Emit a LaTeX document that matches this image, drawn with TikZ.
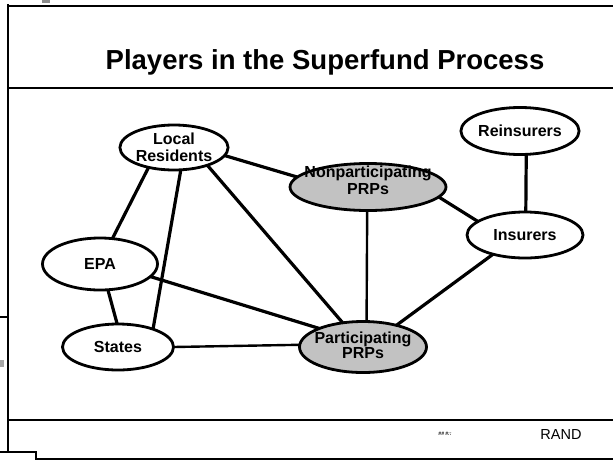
\documentclass[tikz,border=0pt]{standalone}
\usepackage{fontspec}
\setmainfont{Liberation Sans}
\usetikzlibrary{shapes.geometric}
\begin{document}
\begin{tikzpicture}[x=1pt,y=-1pt,
  player/.style={ellipse,draw=black,line width=2.8pt,fill=white,inner sep=0pt,
    outer sep=0pt,align=center,font=\fontsize{16}{16.5}\selectfont\bfseries},
  prp/.style={player,fill=black!24},
  caption/.style={align=center,inner sep=0pt,font=\fontsize{16}{17}\selectfont\bfseries},
  link/.style={line width=3.2pt},
  thinlink/.style={line width=2.4pt},
  frame/.style={line width=2.4pt,line cap=butt}]
\useasboundingbox (0,0) rectangle (613,464);

% slide frame
\draw[frame] (8,4) -- (8,453);
\draw[frame] (8,6) -- (613,6);
\draw[frame] (8,88) -- (613,88);
\draw[frame] (8,420) -- (613,420);
\draw[frame] (0,452) -- (36,452) -- (36,459) -- (613,459);
\draw[line width=1.5pt] (0,317) -- (8,317);
\fill[black!45] (42,0) rectangle (50,3);
\fill[black!35] (0,360) rectangle (4,367);

% title and footer
\node (title) at (325,62) {\fontsize{27.5}{30}\selectfont\bfseries Players in the Superfund Process};
\node (mark) at (445,434) {\fontsize{5}{6}\selectfont\bfseries\itshape \#\# \#::};
\node (rand) at (561,435) {\fontsize{14.5}{16}\selectfont RAND};

% players
\node[player,minimum width=108pt,minimum height=45pt] (lr) at (174,147.5) {Local\\Residents};
\node[player,minimum width=115pt,minimum height=47pt] (rein) at (520,131) {Reinsurers};
\node[prp,minimum width=156pt,minimum height=47pt] (np) at (368,187) {};
\node[caption] (nptext) at (368,180) {Nonparticipating\\PRPs};
\node[player,minimum width=116pt,minimum height=46pt] (ins) at (525,235) {Insurers};
\node[player,minimum width=115pt,minimum height=52pt] (epa) at (100,264) {EPA};
\node[player,minimum width=111pt,minimum height=46pt] (st) at (118,347) {States};
\node[prp,minimum width=127pt,minimum height=51pt] (pp) at (363,347) {};
\node[caption,font=\fontsize{16}{15}\selectfont\bfseries] (pptext) at (363,345) {Participating\\PRPs};

% relationships
\draw[link] (lr.218) -- (epa.64);
\draw[link] (lr.287) -- (st.27);
\draw[link] (lr.-9) -- (np.172);
\draw[link] (lr.-28) -- (pp.130);
\draw[link] (epa.-73) -- (st.92);
\draw[link] (epa.-14) -- (pp.157);
\draw[thinlink] (st.0) -- (pp.178);
\draw[thinlink] (np.268) -- (pp.82);
\draw[link] (np.-8) -- (ins.164);
\draw[link] (rein.-75) -- (ins.88);
\draw[link] (ins.211) -- (pp.33);
\end{tikzpicture}
\end{document}
